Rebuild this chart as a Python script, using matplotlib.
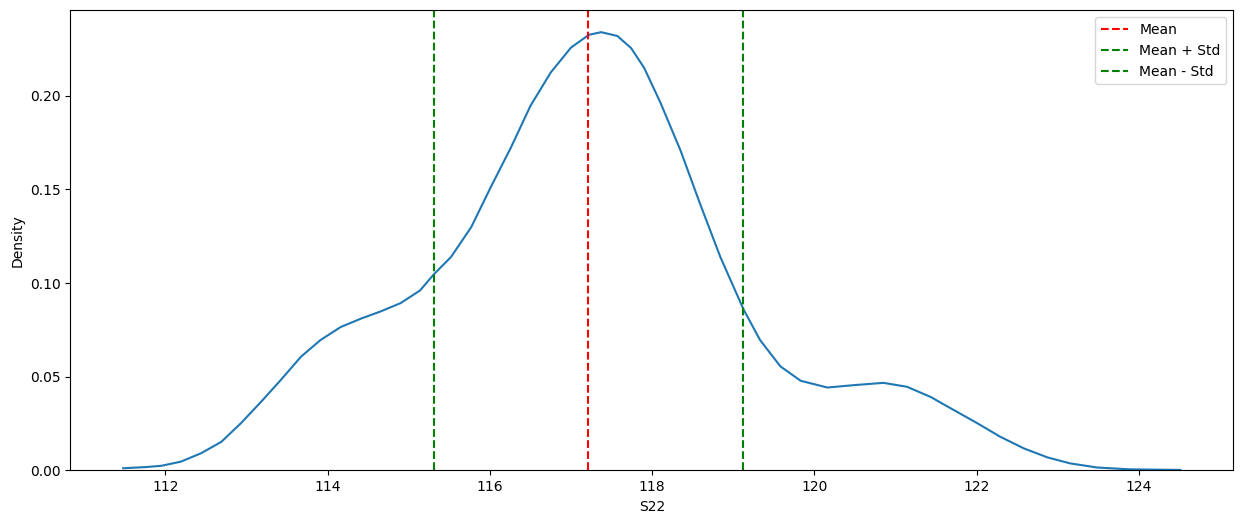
import matplotlib
matplotlib.use("Agg")
import matplotlib.pyplot as plt

# KDE curve of S22
s22_values = [111.48, 111.75, 111.95, 112.19, 112.44, 112.69, 112.93, 113.18, 113.42,
              113.67, 113.91, 114.16, 114.41, 114.65, 114.90, 115.14, 115.305, 115.52,
              115.77, 116.01, 116.26, 116.50, 116.75, 117.00, 117.22, 117.37, 117.57,
              117.74, 117.90, 118.10, 118.35, 118.59, 118.84, 119.127, 119.33, 119.58,
              119.83, 120.16, 120.49, 120.85, 121.14, 121.43, 121.72, 122.0, 122.29,
              122.58, 122.87, 123.15, 123.48, 123.89, 124.51]
density = [0.0011, 0.0017, 0.0024, 0.0046, 0.0091, 0.0152, 0.0251, 0.0366, 0.0481,
           0.0606, 0.0695, 0.0765, 0.0810, 0.0848, 0.0893, 0.0961, 0.1045, 0.1139,
           0.1299, 0.1512, 0.1725, 0.1947, 0.2125, 0.2258, 0.2326, 0.2340, 0.2320,
           0.2255, 0.2150, 0.1965, 0.1707, 0.1423, 0.1139, 0.0858, 0.0695, 0.0555,
           0.0478, 0.0442, 0.0455, 0.0467, 0.0446, 0.0392, 0.0321, 0.0253, 0.0179,
           0.0117, 0.0069, 0.0037, 0.0015, 0.0005, 0.0002]

mean_val = 117.214
std_val = 1.909

fig = plt.figure(figsize=(12.42, 5.25), dpi=100)
ax = fig.add_axes([0.0566, 0.1042, 0.9364, 0.8762])

ax.plot(s22_values, density, color="C0", linewidth=1.5)
ax.axvline(mean_val, color="red", linestyle="--", label="Mean")
ax.axvline(mean_val + std_val, color="green", linestyle="--", label="Mean + Std")
ax.axvline(mean_val - std_val, color="green", linestyle="--", label="Mean - Std")

ax.set_ylim(0, None)
ax.set_xlabel("S22")
ax.set_ylabel("Density")
ax.legend(loc="upper right")

fig.savefig("out.png", dpi=100)
